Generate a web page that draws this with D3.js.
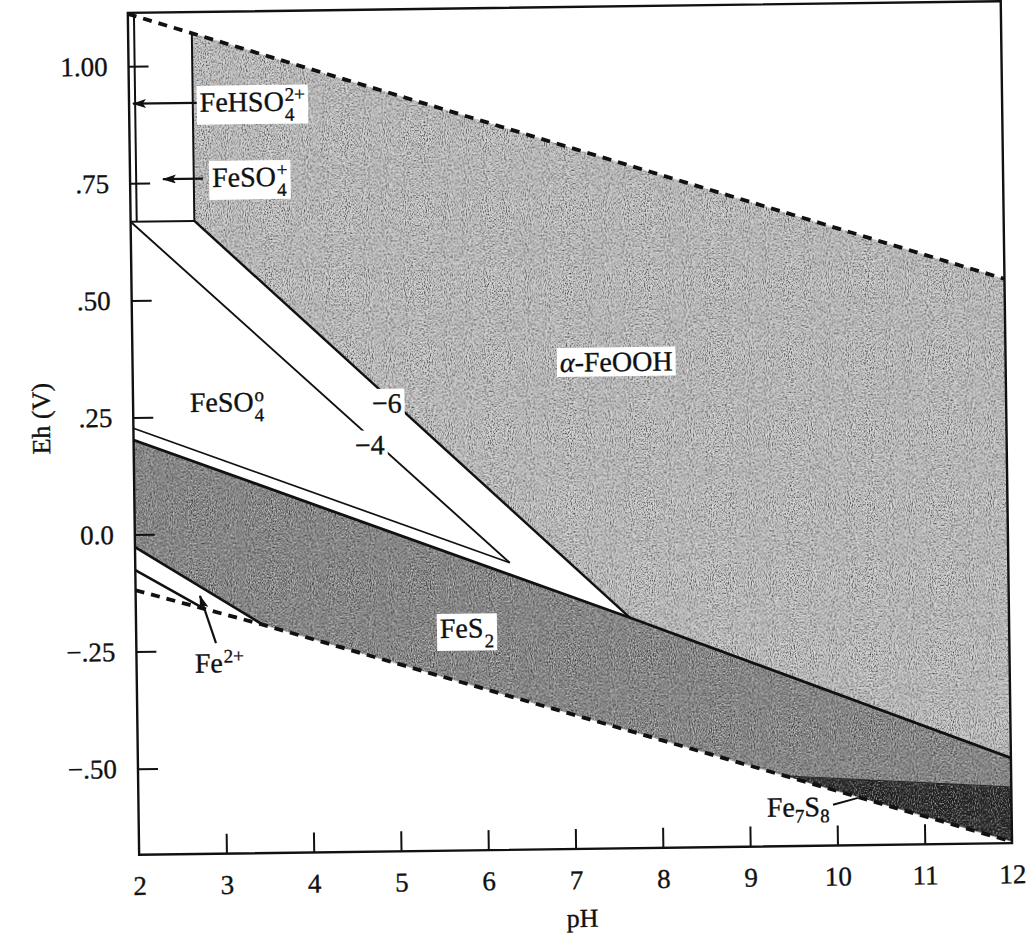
<!DOCTYPE html>
<html><head><meta charset="utf-8">
<script src="https://cdn.jsdelivr.net/npm/d3@7/dist/d3.min.js"></script>
<style>
html,body{margin:0;padding:0;background:#fff;}
svg{display:block;}
text{font-family:"Liberation Serif","Times New Roman",serif;fill:#111;stroke:#111;stroke-width:0.35px;}
</style></head><body>
<svg id="chart" width="1030" height="938"></svg>
<script>
// ---- data (pH, Eh in volts) ----
const pHTicks = [2,3,4,5,6,7,8,9,10,11,12];
const ehTicks = [1.0,0.75,0.5,0.25,0,-0.25,-0.5];
const ehTickLabels = ["1.00",".75",".50",".25","0.0","\u2212.25","\u2212.50"];
const o2Line = [[2,1.112],[12,0.521]];
const h2Line = [[2,-0.119],[3.45,-0.196],[9.41,-0.534],[12,-0.681]];
const fehso4Boundary = [[2.07,0.668],[2.07,1.108]];
const feso4pBoundary = [[2.73,0.668],[2.73,1.069]];
const feso4Boundary = [[2,0.668],[2.73,0.668]];
const goethiteEdge6 = [[2.73,0.668],[7.66,-0.192]];
const goethiteEdge4 = [[2,0.668],[6.29,-0.071]];
const pyriteTop6 = [[2,0.202],[7.66,-0.192],[12,-0.502]];
const pyriteTop4 = [[2,0.227],[6.29,-0.071]];
const pyriteBottom6 = [[2,-0.027],[3.45,-0.196]];
const pyriteBottom4 = [[2,-0.076],[2.76,-0.158]];
const pyrrhotiteTop = [[9.41,-0.534],[12,-0.564]];

const labelTexts = ["FeHSO","FeSO","FeSO","\u22126","\u22124","FeOOH","FeS","Fe","Fe"];
const labelAt = [[2.81,0.9007],[2.94,0.740],[2.65,0.260],[4.735,0.253],[4.534,0.164],[6.895,0.335],[5.48,-0.2296],[2.668,-0.297],[9.197,-0.621]];
const arrowLines = [
  [[2.78,0.92],[2.045,0.92]],
  [[2.835,0.758],[2.377,0.758]],
  [[2.913,-0.234],[2.737,-0.133]]
];
const leaderLine = [[9.955,-0.597],[10.243,-0.583]];

// ---- layout ----
const m = {l:133.5, r:1006.5, t:7, b:849};
const x = d3.scaleLinear().domain([2,12]).range([m.l,m.r]);
const y = d3.scaleLinear().domain([-0.684,1.114]).range([m.b,m.t]);
const line = d3.line().x(d=>x(d[0])).y(d=>y(d[1]));

const svg = d3.select("#chart");
const defs = svg.append("defs");
defs.append("clipPath").attr("id","plotclip").append("rect")
  .attr("x",m.l).attr("y",m.t).attr("width",m.r-m.l).attr("height",m.b-m.t);
defs.append("marker").attr("id","ah").attr("viewBox","0 0 14 9")
  .attr("refX",13).attr("refY",4.5).attr("markerWidth",14).attr("markerHeight",9)
  .attr("markerUnits","userSpaceOnUse").attr("orient","auto")
  .append("path").attr("d","M0,0 L14,4.5 L0,9 L3,4.5 Z").attr("fill","#111");
// stipple grain
const f = defs.append("filter").attr("id","grain").attr("x",0).attr("y",0).attr("width",1).attr("height",1)
  .attr("color-interpolation-filters","sRGB");
f.append("feTurbulence").attr("type","fractalNoise").attr("baseFrequency","0.95 0.6")
  .attr("numOctaves",1).attr("seed",4).attr("result","n");
f.append("feColorMatrix").attr("in","n").attr("type","matrix")
  .attr("values","0 0 0 0 0  0 0 0 0 0  0 0 0 0 0  2 0 0 0 -0.9").attr("result","dark");
f.append("feColorMatrix").attr("in","n").attr("type","matrix")
  .attr("values","0 0 0 0 1  0 0 0 0 1  0 0 0 0 1  0 2 0 0 -0.95").attr("result","light");
f.append("feComposite").attr("in","dark").attr("in2","SourceAlpha").attr("operator","in").attr("result","d2");
f.append("feComposite").attr("in","light").attr("in2","SourceAlpha").attr("operator","in").attr("result","l2");
const fm = f.append("feMerge");
fm.append("feMergeNode").attr("in","SourceGraphic");
fm.append("feMergeNode").attr("in","d2");
fm.append("feMergeNode").attr("in","l2");

const root = svg.append("g").attr("transform","rotate(-0.77 570 433)");
const plot = root.append("g").attr("clip-path","url(#plotclip)");

// regions
const feoohPoly = [feso4pBoundary[1], o2Line[1], ...pyriteTop6.slice(1).reverse(), goethiteEdge6[0]];
const fes2Poly = [...pyriteTop6, ...pyrrhotiteTop.slice().reverse(),
  ...h2Line.filter(p=>p[0]>=3.45 && p[0]<=9.41).reverse(), ...pyriteBottom6.slice().reverse()];
const fe7s8Poly = [...pyrrhotiteTop, h2Line[h2Line.length-1]];

plot.append("path").attr("d", line(feoohPoly)+"Z").attr("fill","#c6c6c6").attr("filter","url(#grain)");
plot.append("path").attr("d", line(fes2Poly)+"Z").attr("fill","#8a8a8a").attr("filter","url(#grain)");
plot.append("path").attr("d", line(fe7s8Poly)+"Z").attr("fill","#262626").attr("filter","url(#grain)");

// boundary lines
const solid = [
  [fehso4Boundary,2],[feso4pBoundary,2],[feso4Boundary,2],
  [goethiteEdge6,2.4],[goethiteEdge4,1.9],[pyriteTop6,2.8],[pyriteTop4,1.7],
  [pyriteBottom6,2.6],[pyriteBottom4,2.6],[pyrrhotiteTop,0.8]
];
solid.forEach(([d,w])=>{
  plot.append("path").attr("d",line(d)).attr("fill","none").attr("stroke","#111").attr("stroke-width",w);
});
[o2Line,h2Line].forEach(d=>{
  plot.append("path").attr("d",line(d)).attr("fill","none").attr("stroke","#111")
    .attr("stroke-width",3.8).attr("stroke-dasharray","9,7");
});

// frame
root.append("rect").attr("x",m.l).attr("y",m.t).attr("width",m.r-m.l).attr("height",m.b-m.t)
  .attr("fill","none").attr("stroke","#111").attr("stroke-width",2.4);

// axes
const yAxis = d3.axisLeft(y).tickValues(ehTicks).tickSize(-20).tickPadding(21)
  .tickFormat((d,i)=>ehTickLabels[i]);
const gy = root.append("g").attr("transform",`translate(${m.l},0)`).call(yAxis);
const xAxis = d3.axisBottom(x).tickValues(pHTicks).tickSize(-20).tickPadding(21)
  .tickFormat(d3.format("d"));
const gx = root.append("g").attr("transform",`translate(0,${m.b})`).call(xAxis);
[gx,gy].forEach(g=>{
  g.select(".domain").remove();
  g.selectAll(".tick line").attr("stroke","#111").attr("stroke-width",2);
  g.selectAll(".tick text").attr("font-size",27).attr("fill","#111")
    .style("font-family","'Liberation Serif',serif");
});
gx.selectAll(".tick").filter(d=>d===2||d===12).select("line").remove();

root.append("text").attr("x",x(7.07)).attr("y",927).attr("text-anchor","middle")
  .attr("font-size",26).text("pH");
root.append("text").attr("transform",`translate(50,${y(0.25)}) rotate(-90)`)
  .attr("text-anchor","middle").attr("font-size",26).text("Eh (V)");

// arrows
const ann = root.append("g");
arrowLines.forEach(d=>{
  ann.append("path").attr("d",line(d)).attr("stroke","#111").attr("stroke-width",2.2)
    .attr("fill","none").attr("marker-end","url(#ah)");
});
ann.append("path").attr("d",line(leaderLine)).attr("stroke","#111").attr("stroke-width",2).attr("fill","none");

// labels
const FS = 28, SS = 19;
function chem(i, sup, sub, box, italicPrefix){
  const g = ann.append("g");
  const px = x(labelAt[i][0]), py = y(labelAt[i][1]);
  const t = g.append("text").attr("x",px).attr("y",py).attr("font-size",FS);
  if(italicPrefix){ t.append("tspan").attr("font-style","italic").text(italicPrefix); t.append("tspan").text("-"); }
  t.append("tspan").text(labelTexts[i]);
  const end = px + t.node().getComputedTextLength();
  if(sup) g.append("text").attr("x",end+1).attr("y",py-10).attr("font-size",SS).text(sup);
  if(sub) g.append("text").attr("x",end+1).attr("y",py+10).attr("font-size",SS).text(sub);
  if(box){
    const bb = g.node().getBBox();
    g.insert("rect",":first-child").attr("x",bb.x-3).attr("y",bb.y+1)
      .attr("width",bb.width+6).attr("height",bb.height-2).attr("fill","#fff");
  }
  return g;
}
chem(0,"2+","4",true);
chem(1,"+","4",true);
chem(2,"o","4",false);
chem(3,null,null,true);
chem(4,null,null,true);
chem(5,null,null,true,"\u03b1");
chem(6,null,"2",true);
chem(7,"2+",null,false);
// Fe7S8 inline
{
  const px = x(labelAt[8][0]), py = y(labelAt[8][1]);
  const t = ann.append("text").attr("x",px).attr("y",py).attr("font-size",FS);
  t.append("tspan").text(labelTexts[8]);
  t.append("tspan").attr("font-size",SS).attr("dy",6).text("7");
  t.append("tspan").attr("dy",-6).text("S");
  t.append("tspan").attr("font-size",SS).attr("dy",6).text("8");
}
</script></body></html>
